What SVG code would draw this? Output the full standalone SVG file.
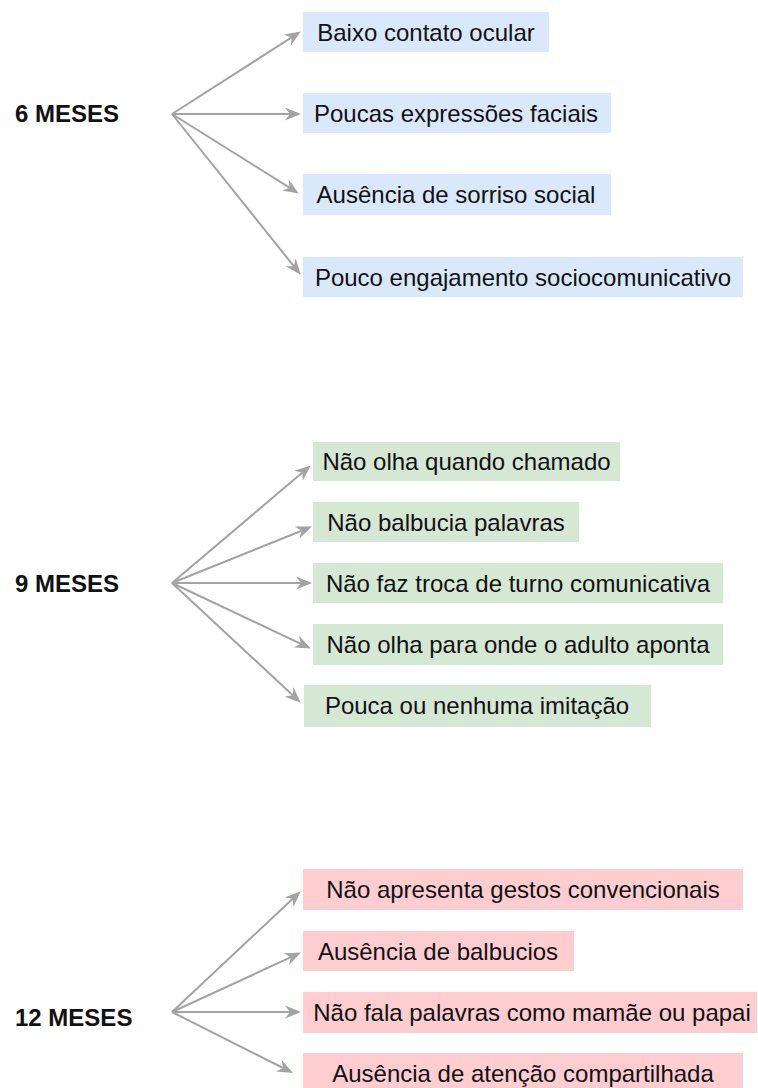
<svg xmlns="http://www.w3.org/2000/svg" width="758" height="1088" viewBox="0 0 758 1088">
<style>
.lbl{font-family:"Liberation Sans",Arial,sans-serif;font-size:24px;font-weight:bold;fill:#111}
.t{font-family:"Liberation Sans",Arial,sans-serif;font-size:24px;fill:#111;text-anchor:middle}
.b{fill:#dae8fc}.g{fill:#d5e8d4}.r{fill:#fdcdd0}
.c line{stroke:#a3a3a3;stroke-width:2;marker-end:url(#ah)}
</style>
<defs>
<marker id="ah" viewBox="0 0 16 13" markerWidth="16" markerHeight="13" refX="5" refY="6.5" orient="auto" markerUnits="userSpaceOnUse">
<path d="M0,0 L16,6.5 L0,13 L5,6.5 z" fill="#a3a3a3"/>
</marker>
</defs>
<rect width="758" height="1088" fill="#fff"/>
<g id="connectors" class="c">
<line x1="172" y1="114" x2="291.6" y2="37.4"/>
<line x1="172" y1="114" x2="290" y2="114"/>
<line x1="172" y1="114" x2="289.5" y2="187.7"/>
<line x1="172" y1="114" x2="293.8" y2="266.2"/>
<line x1="172" y1="583" x2="302.4" y2="472.5"/>
<line x1="172" y1="583" x2="301.7" y2="530.7"/>
<line x1="172" y1="583" x2="301" y2="583"/>
<line x1="172" y1="583" x2="300.8" y2="643.8"/>
<line x1="172" y1="583" x2="292.7" y2="695.2"/>
<line x1="172" y1="1012" x2="292.7" y2="898.8"/>
<line x1="172" y1="1012" x2="290.9" y2="957.2"/>
<line x1="172" y1="1012" x2="290" y2="1012"/>
<line x1="172" y1="1012" x2="283.2" y2="1068"/>
</g>
<g id="m6"><text class="lbl" x="15" y="122">6 MESES</text></g>
<g id="m9"><text class="lbl" x="15" y="592">9 MESES</text></g>
<g id="m12"><text class="lbl" x="15" y="1026">12 MESES</text></g>
<g id="n6a"><rect class="b" x="303" y="12" width="246" height="40"/><text class="t" x="426" y="41">Baixo contato ocular</text></g>
<g id="n6b"><rect class="b" x="303" y="93" width="308" height="40"/><text class="t" x="456" y="122">Poucas expressões faciais</text></g>
<g id="n6c"><rect class="b" x="303" y="174" width="308" height="41"/><text class="t" x="456" y="203">Ausência de sorriso social</text></g>
<g id="n6d"><rect class="b" x="303" y="257" width="440" height="40"/><text class="t" x="523" y="286">Pouco engajamento sociocomunicativo</text></g>
<g id="n9a"><rect class="g" x="313" y="442" width="307" height="39"/><text class="t" x="466.5" y="470">Não olha quando chamado</text></g>
<g id="n9b"><rect class="g" x="313" y="502" width="266" height="40"/><text class="t" x="446" y="531">Não balbucia palavras</text></g>
<g id="n9c"><rect class="g" x="313" y="563" width="410" height="40"/><text class="t" x="518" y="592">Não faz troca de turno comunicativa</text></g>
<g id="n9d"><rect class="g" x="313" y="624" width="410" height="41"/><text class="t" x="518" y="653">Não olha para onde o adulto aponta</text></g>
<g id="n9e"><rect class="g" x="304" y="685" width="347" height="42"/><text class="t" x="477" y="714">Pouca ou nenhuma imitação</text></g>
<g id="n12a"><rect class="r" x="303" y="869" width="440" height="41"/><text class="t" x="523" y="898">Não apresenta gestos convencionais</text></g>
<g id="n12b"><rect class="r" x="303" y="931" width="271" height="40"/><text class="t" x="438" y="960">Ausência de balbucios</text></g>
<g id="n12c"><rect class="r" x="303" y="992" width="454" height="41"/><text class="t" x="532" y="1021">Não fala palavras como mamãe ou papai</text></g>
<g id="n12d"><rect class="r" x="303" y="1053" width="440" height="40"/><text class="t" x="523" y="1082">Ausência de atenção compartilhada</text></g>
</svg>
